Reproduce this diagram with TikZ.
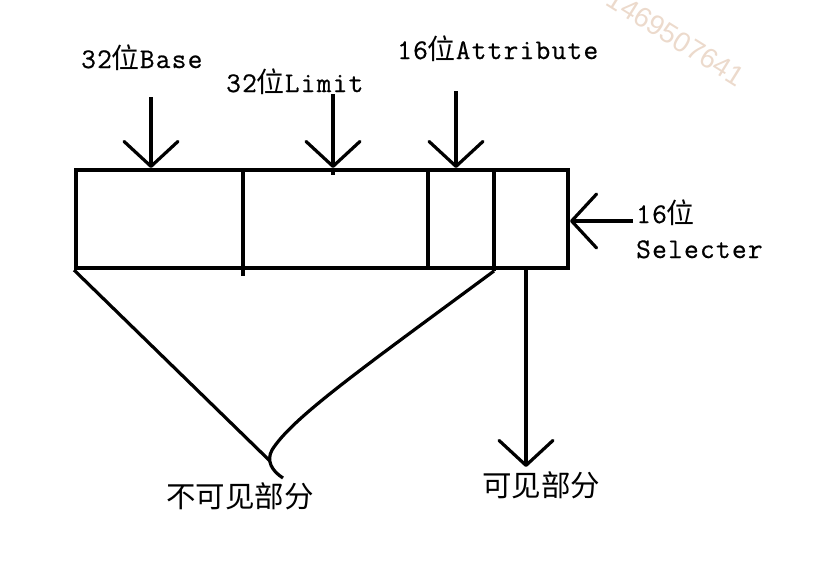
\documentclass[tikz,border=0pt]{standalone}
\usepackage{fontspec}
\setmainfont{Latin Modern Mono}[FakeBold=0.6,LetterSpace=4.5]
\newfontfamily\cjk{Noto Sans CJK SC}
\newfontfamily\wmfont{Liberation Sans}
\usetikzlibrary{arrows.meta}
\definecolor{wm}{RGB}{236,218,204}
\newcommand\weichar{{\cjk\fontsize{28}{30}\selectfont 位}}
\begin{document}
\begin{tikzpicture}[x=1pt,y=-1pt,
  ln/.style={line width=3.2pt, black},
  arr/.style={ln, -{Straight Barb[length=25pt,width=54pt,round]}},
  lbl/.style={inner sep=0pt, anchor=base west, font=\fontsize{28.5}{30}\selectfont},
  cjklbl/.style={inner sep=0pt, font=\cjk\fontsize{29.5}{31}\selectfont}
]
\useasboundingbox (0,0) rectangle (814,587);
% watermark
\begin{scope}
\clip (0,0) rectangle (814,587);
\node[rotate=-32, text=wm, font=\wmfont\fontsize{28}{30}\selectfont, inner sep=0pt] (wmark) at (676,38) {1469507641};
\end{scope}
% register box
\node[draw, line width=4pt, minimum width=492pt, minimum height=98pt, inner sep=0pt] (box) at (322,219) {};
\coordinate (d1t) at (243,170); \coordinate (d1b) at (243,276);
\coordinate (d2t) at (428,170); \coordinate (d2b) at (428,268);
\coordinate (d3t) at (494,170); \coordinate (d3b) at (494,271);
\draw[line width=3.6pt] (d1t) -- (d1b);
\draw[line width=3.6pt] (d2t) -- (d2b);
\draw[line width=3.6pt] (d3t) -- (d3b);
% labels
\node[lbl] (base) at (81,68) {32\weichar Base};
\node[lbl] (limit) at (226,92) {32\weichar Limit};
\node[lbl] (attr) at (397,59) {16\weichar Attribute};
\node[lbl] (sel1) at (636,223) {16\weichar};
\node[lbl] (sel2) at (636,258) {Selecter};
\node[cjklbl] (invis) at (240,496) {不可见部分};
\node[cjklbl] (vis) at (541,485) {可见部分};
% arrows into the box
\coordinate (bT) at (151,97);
\coordinate (lT) at (333,94);
\coordinate (aT) at (456,91);
\coordinate (sT) at (633,221);
\draw[arr] (bT) -- (bT |- box.north);
\draw[arr] (lT) -- (lT |- box.north);
\draw[ln] (lT |- box.north) -- ++(0,7);
\draw[arr] (aT) -- (aT |- box.north);
\draw[arr] (sT) -- (sT -| box.east);
% visible part arrow
\coordinate (vB) at (526,467);
\draw[arr] (vB |- box.south) -- (vB);
% invisible part lines
\coordinate (jn) at (270,461);
\draw[ln] (box.south west) -- (jn);
\draw[ln] (d3b) .. controls (360,370) and (292,418) .. (272,450) .. controls (266,461) and (272,471) .. (283,478);
\end{tikzpicture}
\end{document}
